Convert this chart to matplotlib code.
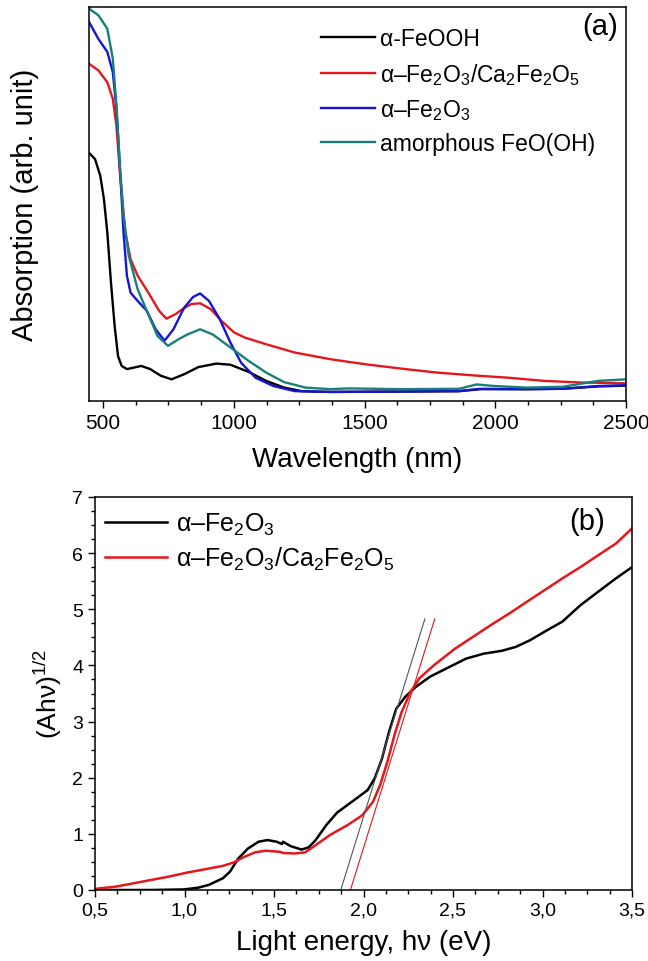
import numpy as np
import matplotlib
matplotlib.use("Agg")
import matplotlib.pyplot as plt
from matplotlib.ticker import MultipleLocator, FuncFormatter, NullLocator

plt.rcParams['font.family'] = ['Liberation Sans', 'DejaVu Sans']
plt.rcParams['mathtext.fontset'] = 'custom'
plt.rcParams['mathtext.rm'] = 'Liberation Sans'
plt.rcParams['mathtext.it'] = 'Liberation Sans:italic'
plt.rcParams['mathtext.bf'] = 'Liberation Sans:bold'

# ---------------- panel (a) data ----------------
feooh_wl = [446, 469, 489, 503, 516, 530, 544, 557, 571, 591, 619, 646, 680, 721, 762, 810, 864,
            933, 987, 1056, 1124, 1192, 1260, 1370, 1643, 1861, 1943, 2120, 2257, 2393, 2500]
feooh_y = [63.0, 61.4, 57.2, 51.3, 42.8, 30.1, 19.1, 11.4, 8.9, 8.1, 8.5, 8.9, 8.1, 6.4, 5.5, 6.8, 8.6,
           9.5, 9.2, 7.4, 5.1, 3.4, 2.5, 2.3, 2.4, 2.5, 3.0, 3.0, 3.1, 3.7, 3.9]

hem_wl = [446, 482, 516, 537, 551, 564, 578, 591, 605, 632, 667, 701, 735, 769, 810, 844, 871,
          905, 946, 987, 1028, 1083, 1151, 1233, 1370, 1643, 1861, 1943, 2120, 2257, 2393, 2500]
hem_y = [96.2, 91.9, 88.6, 83.5, 74.2, 59.7, 42.8, 31.8, 27.5, 25.4, 22.9, 18.2, 15.3, 18.2, 23.7, 26.4, 27.3,
         25.4, 20.8, 14.8, 9.7, 5.9, 3.8, 2.5, 2.3, 2.4, 2.5, 3.1, 3.0, 3.1, 3.8, 4.0]

comp_wl = [446, 482, 516, 537, 551, 564, 585, 605, 632, 673, 714, 742, 776, 803, 837, 871, 912, 953,
           1001, 1042, 1124, 1233, 1370, 1506, 1643, 1779, 1916, 2052, 2188, 2325, 2500]
comp_y = [85.6, 83.9, 80.9, 76.7, 69.9, 58.1, 42.8, 36.0, 31.8, 27.5, 22.9, 20.9, 22.0, 23.3, 24.6, 24.8,
          23.3, 20.3, 17.4, 16.1, 14.4, 12.3, 10.6, 9.3, 8.2, 7.2, 6.5, 5.9, 5.1, 4.7, 4.5]

amor_wl = [446, 482, 516, 537, 551, 564, 578, 598, 632, 667, 708, 748, 789, 823, 871, 919, 987, 1056,
           1124, 1192, 1274, 1370, 1438, 1643, 1861, 1929, 1997, 2120, 2257, 2393, 2500]
amor_y = [99.6, 97.9, 94.5, 86.9, 75.0, 59.7, 47.0, 36.9, 28.4, 22.9, 16.5, 14.0, 15.7, 16.9, 18.2, 16.9,
          13.6, 10.2, 7.2, 4.8, 3.4, 3.0, 3.2, 3.0, 3.1, 4.2, 3.8, 3.4, 3.6, 5.1, 5.5]

labels_a = ['α-FeOOH', 'α–Fe$_2$O$_3$/Ca$_2$Fe$_2$O$_5$', 'α–Fe$_2$O$_3$', 'amorphous FeO(OH)']
colors_a = ['#000000', '#e3171c', '#1515d4', '#1a7f79']

# ---------------- panel (b) data ----------------
e_hem = [0.5, 0.815, 0.995, 1.075, 1.135, 1.215, 1.255, 1.30, 1.355, 1.414, 1.464, 1.514, 1.545, 1.55,
         1.594, 1.654, 1.694, 1.733, 1.793, 1.853, 1.913, 1.973, 2.023, 2.063, 2.103, 2.143, 2.183, 2.233,
         2.293, 2.372, 2.472, 2.572, 2.672, 2.772, 2.851, 2.931, 3.011, 3.111, 3.211, 3.310, 3.410, 3.5]
y_hem = [0.0, 0.0, 0.01, 0.04, 0.09, 0.21, 0.33, 0.56, 0.74, 0.86, 0.89, 0.86, 0.82, 0.86,
         0.78, 0.72, 0.76, 0.89, 1.16, 1.38, 1.52, 1.66, 1.78, 1.99, 2.34, 2.82, 3.23, 3.44,
         3.62, 3.80, 3.96, 4.12, 4.21, 4.26, 4.33, 4.45, 4.60, 4.78, 5.07, 5.31, 5.55, 5.75]

e_comp = [0.5, 0.616, 0.716, 0.815, 0.915, 1.015, 1.115, 1.215, 1.274, 1.334, 1.394, 1.454, 1.534, 1.55,
          1.614, 1.674, 1.733, 1.813, 1.913, 1.993, 2.053, 2.093, 2.133, 2.173, 2.213, 2.263, 2.312,
          2.392, 2.512, 2.612, 2.712, 2.812, 2.911, 3.011, 3.111, 3.211, 3.310, 3.410, 3.5]
y_comp = [0.02, 0.06, 0.12, 0.18, 0.24, 0.31, 0.37, 0.43, 0.49, 0.59, 0.67, 0.70, 0.68, 0.66,
          0.65, 0.67, 0.80, 0.98, 1.16, 1.33, 1.57, 1.87, 2.28, 2.76, 3.17, 3.53, 3.77,
          4.00, 4.30, 4.51, 4.72, 4.92, 5.13, 5.34, 5.55, 5.75, 5.96, 6.17, 6.44]

tan_hem_e = [1.873, 2.343]
tan_hem_y = [0.0, 4.83]
tan_comp_e = [1.927, 2.398]
tan_comp_y = [0.0, 4.83]

labels_b = ['α–Fe$_2$O$_3$', 'α–Fe$_2$O$_3$/Ca$_2$Fe$_2$O$_5$']
colors_b = ['#000000', '#e3171c']

# ---------------- figure ----------------
fig = plt.figure(figsize=(6.48, 9.62), dpi=100)

ax1 = fig.add_axes([89/648, 1-402/962, (626-89)/648, (402-8)/962])
ax1.plot(feooh_wl, feooh_y, color=colors_a[0], lw=1.7, label=labels_a[0])
ax1.plot(comp_wl, comp_y, color=colors_a[1], lw=1.7, label=labels_a[1])
ax1.plot(hem_wl, hem_y, color=colors_a[2], lw=1.7, label=labels_a[2])
ax1.plot(amor_wl, amor_y, color=colors_a[3], lw=1.7, label=labels_a[3])
ax1.set_xlim(446, 2500)
ax1.set_ylim(0, 100)
ax1.xaxis.set_major_locator(MultipleLocator(500))
ax1.xaxis.set_minor_locator(MultipleLocator(125))
ax1.yaxis.set_major_locator(NullLocator())
ax1.tick_params(axis='x', which='major', direction='out', length=5, width=1, labelsize=15, pad=4)
ax1.tick_params(axis='x', which='minor', direction='out', length=3, width=1)
ax1.set_xlabel('Wavelength (nm)', fontsize=20, labelpad=10)
ax1.set_ylabel('Absorption (arb. unit)', fontsize=21, labelpad=36)
ax1.legend(loc='upper left', bbox_to_anchor=((321-89)/537, 0.948), frameon=False, fontsize=16.5,
           handlelength=2.36, handletextpad=0.22, labelspacing=0.45, borderaxespad=0, borderpad=0)
ax1.text(0.985, 0.988, '(a)', transform=ax1.transAxes, ha='right', va='top', fontsize=21)
for s in ax1.spines.values():
    s.set_linewidth(1.1)

ax2 = fig.add_axes([95/648, 1-891/962, (632-95)/648, (891-498)/962])
ax2.plot(e_hem, y_hem, color=colors_b[0], lw=1.8, label=labels_b[0])
ax2.plot(e_comp, y_comp, color=colors_b[1], lw=1.8, label=labels_b[1])
ax2.plot(tan_hem_e, tan_hem_y, color='#555555', lw=0.8)
ax2.plot(tan_comp_e, tan_comp_y, color='#e3171c', lw=0.8)
ax2.set_xlim(0.5, 3.5)
ax2.set_ylim(0, 7)
ax2.xaxis.set_major_locator(MultipleLocator(0.5))
ax2.xaxis.set_minor_locator(MultipleLocator(0.125))
ax2.yaxis.set_major_locator(MultipleLocator(1))
ax2.yaxis.set_minor_locator(MultipleLocator(0.25))
ax2.xaxis.set_major_formatter(FuncFormatter(lambda v, p: f'{v:.1f}'.replace('.', ',')))
ax2.tick_params(which='major', direction='out', length=5, width=1, labelsize=14)
ax2.tick_params(which='minor', direction='out', length=3, width=1)
ax2.set_xlabel('Light energy, hν (eV)', fontsize=20, labelpad=7)
ax2.set_ylabel('(Ahν)$^{1/2}$', fontsize=19, labelpad=6)
ax2.legend(loc='upper left', bbox_to_anchor=((105-95)/537, 0.965), frameon=False, fontsize=18,
           handlelength=2.48, handletextpad=0.36, labelspacing=0.33, borderaxespad=0, borderpad=0)
ax2.text(0.95, 0.975, '(b)', transform=ax2.transAxes, ha='right', va='top', fontsize=21)
for s in ax2.spines.values():
    s.set_linewidth(1.1)

fig.savefig('out.png', dpi=100)
